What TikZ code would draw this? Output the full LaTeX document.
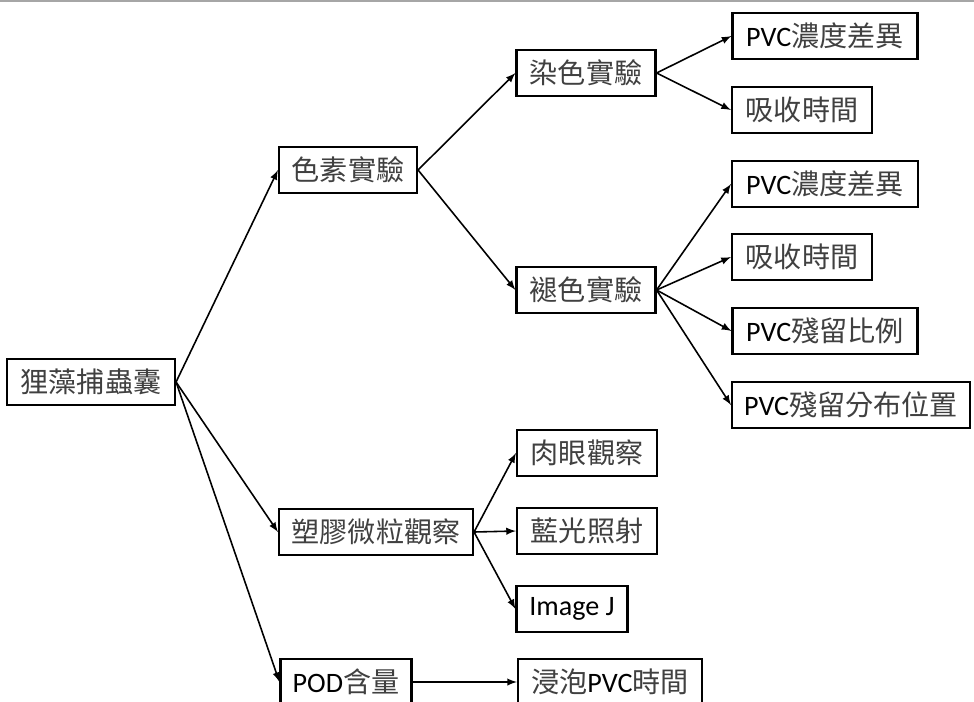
\documentclass[tikz,border=0pt]{standalone}
\usepackage{fontspec}
\setmainfont{Carlito}
\newfontfamily\cjk{Noto Sans CJK TC}
\newcommand{\zh}[1]{{\cjk\color{black!75}#1}}
\usetikzlibrary{arrows,positioning}

\tikzset{
  box/.style={draw, line width=1.2pt, minimum height=46*0.02cm, inner sep=2pt,
    font=\fontsize{16}{19}\selectfont},
  w/.style={minimum width=#1*0.02cm},
  link/.style={->, line width=0.9pt}
}

\begin{document}
\begin{tikzpicture}[>=latex, x=0.02cm, y=-0.02cm]
	\clip (0,0) rectangle (974,701);
	\fill[white] (0,0) rectangle (974,701);
	\draw[black!35, line width=1.2pt] (0,1) -- (974,1);

	\node[box, w=168] (root) at (91,382) {\zh{狸藻捕蟲囊}};

	\node[box, w=138] (pigment) at (348,170) {\zh{色素實驗}};
	\node[box, w=194] (plastic) at (376,532) {\zh{塑膠微粒觀察}};
	\node[box, w=131] (pod) at (346,682) {POD\zh{含量}};

	\node[box, w=139] (dye) at (586,73) {\zh{染色實驗}};
	\node[box, w=139] (fade) at (586,290) {\zh{褪色實驗}};

	\node[box, w=185] (dyeconc) at (825,36) {PVC\zh{濃度差異}};
	\node[box, w=140] (dyetime) at (802,110) {\zh{吸收時間}};

	\node[box, w=186] (fadeconc) at (825,184) {PVC\zh{濃度差異}};
	\node[box, w=140] (fadetime) at (802,257) {\zh{吸收時間}};
	\node[box, w=185] (ratio) at (825,331) {PVC\zh{殘留比例}};
	\node[box, w=238] (spread) at (851,405) {PVC\zh{殘留分布位置}};

	\node[box, w=140] (eye) at (587,453) {\zh{肉眼觀察}};
	\node[box, w=140] (blue) at (587,531) {\zh{藍光照射}};
	\node[box, w=111] (imgj) at (572,609) {Image J};

	\node[box, w=184] (soak) at (610,682) {\zh{浸泡}PVC\zh{時間}};

	\draw[link] (root.east) -- (pigment.west);
	\draw[link] (root.east) -- (plastic.west);
	\draw[link] (root.east) -- (pod.west);

	\draw[link] (pigment.east) -- (dye.west);
	\draw[link] (pigment.east) -- (fade.west);

	\draw[link] (dye.east) -- (dyeconc.west);
	\draw[link] (dye.east) -- (dyetime.west);

	\draw[link] (fade.east) -- (fadeconc.west);
	\draw[link] (fade.east) -- (fadetime.west);
	\draw[link] (fade.east) -- (ratio.west);
	\draw[link] (fade.east) -- (spread.west);

	\draw[link] (plastic.east) -- (eye.west);
	\draw[link] (plastic.east) -- (blue.west);
	\draw[link] (plastic.east) -- (imgj.west);

	\draw[link] (pod.east) -- (soak.west);
\end{tikzpicture}
\end{document}
